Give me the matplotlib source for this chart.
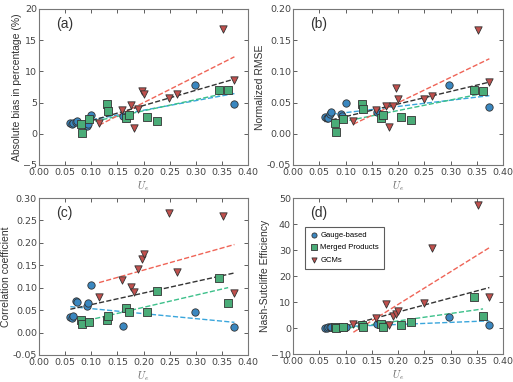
import numpy as np
import matplotlib
matplotlib.use('Agg')
import matplotlib.pyplot as plt

plt.rcParams['font.family'] = ['DejaVu Sans']
plt.rcParams['mathtext.fontset'] = 'cm'

# x positions (U_e) of each product group
x_gauge = [0.060, 0.064, 0.066, 0.071, 0.073, 0.092, 0.093, 0.100, 0.160, 0.298, 0.374]
x_merged = [0.080, 0.082, 0.095, 0.131, 0.133, 0.167, 0.172, 0.206, 0.225, 0.345, 0.362]
x_gcm = [0.115, 0.158, 0.177, 0.182, 0.190, 0.197, 0.200, 0.249, 0.265, 0.353, 0.374]

# (a) absolute bias in percentage
bias_gauge = [1.8, 1.5, 1.7, 1.9, 2.0, 1.2, 1.6, 3.0, 2.8, 7.8, 4.7]
bias_merged = [1.6, 0.2, 2.3, 4.8, 3.7, 2.5, 3.0, 2.7, 2.1, 7.0, 7.0]
bias_gcm = [1.7, 3.8, 4.6, 1.0, 4.0, 6.9, 6.4, 5.7, 6.3, 16.8, 8.6]

# (b) normalized RMSE
rmse_gauge = [0.027, 0.025, 0.026, 0.031, 0.035, 0.031, 0.028, 0.049, 0.035, 0.078, 0.043]
rmse_merged = [0.018, 0.003, 0.024, 0.048, 0.040, 0.025, 0.030, 0.027, 0.022, 0.070, 0.068]
rmse_gcm = [0.021, 0.038, 0.044, 0.011, 0.045, 0.073, 0.055, 0.055, 0.061, 0.167, 0.083]

# (c) correlation coefficient
corr_gauge = [0.035, 0.032, 0.037, 0.070, 0.068, 0.060, 0.066, 0.106, 0.015, 0.046, 0.013]
corr_merged = [0.027, 0.020, 0.024, 0.029, 0.037, 0.055, 0.045, 0.046, 0.093, 0.121, 0.067]
corr_gcm = [0.079, 0.117, 0.102, 0.091, 0.141, 0.163, 0.176, 0.267, 0.134, 0.259, 0.088]

# (d) Nash-Sutcliffe efficiency
nse_gauge = [0.1, 0.1, 0.3, 0.3, 0.2, 0.3, 0.4, 0.4, 1.6, 4.3, 1.0]
nse_merged = [0.2, 0.1, 0.5, 1.0, 0.3, 1.7, 0.5, 1.1, 2.2, 11.8, 4.6]
nse_gcm = [1.6, 3.9, 9.3, 1.0, 4.8, 5.4, 6.6, 9.7, 30.6, 47.3, 11.9]

panels = [
    ('(a)', 'Absolute bias in percentage (%)', (bias_gauge, bias_merged, bias_gcm), (-5, 20), 5),
    ('(b)', 'Normalized RMSE', (rmse_gauge, rmse_merged, rmse_gcm), (-0.05, 0.20), 0.05),
    ('(c)', 'Correlation coefficient', (corr_gauge, corr_merged, corr_gcm), (-0.05, 0.30), 0.05),
    ('(d)', 'Nash-Sutcliffe Efficiency', (nse_gauge, nse_merged, nse_gcm), (-10, 50), 10),
]

names = ['Gauge-based', 'Merged Products', 'GCMs']
markers = ['o', 's', 'v']
face = ['#3a87c0', '#4aac78', '#c0504d']
line_col = ['#3aa6dc', '#3cc08a', '#ef6457']
xs = [x_gauge, x_merged, x_gcm]

fig = plt.figure(figsize=(5.13, 3.82), dpi=100)
boxes = [(39, 9, 248, 165), (293, 9, 503, 165), (39, 198, 248, 355), (293, 198, 503, 354)]
W, H = 513.0, 382.0

for (lab, ylab, ys, ylim, step), (l, t, r, b) in zip(panels, boxes):
    ax = fig.add_axes([l / W, 1 - b / H, (r - l) / W, (b - t) / H])
    for i in range(3):
        ax.scatter(xs[i], ys[i], marker=markers[i], s=28, c=face[i],
                   edgecolors='#333333', linewidths=0.6, zorder=3, label=names[i])
    for i in range(3):
        k, c = np.polyfit(xs[i], ys[i], 1)
        xx = np.array([min(xs[i]), max(xs[i])])
        ax.plot(xx, k * xx + c, '--', color=line_col[i], lw=1.0, zorder=2)
    allx = np.concatenate(xs)
    ally = np.concatenate(ys)
    k, c = np.polyfit(allx, ally, 1)
    xx = np.array([allx.min(), allx.max()])
    ax.plot(xx, k * xx + c, '--', color='#333333', lw=1.0, zorder=2)

    ax.set_xlim(0, 0.4)
    ax.set_ylim(*ylim)
    ax.set_xticks(np.arange(0, 0.401, 0.05))
    ax.set_yticks(np.arange(ylim[0], ylim[1] + step / 2, step))
    if step < 1:
        ax.yaxis.set_major_formatter(matplotlib.ticker.FormatStrFormatter('%.2f'))
    ax.xaxis.set_major_formatter(matplotlib.ticker.FormatStrFormatter('%.2f'))
    ax.tick_params(direction='in', top=True, right=True, labelsize=6.8,
                   colors='#444444', length=3, width=0.6, pad=1.5)
    ax.tick_params(axis='x', pad=2.5)
    for sp in ax.spines.values():
        sp.set_color('#777777')
        sp.set_linewidth(0.8)
    ax.set_ylabel(ylab, fontsize=7.5, color='#333333', labelpad=1,
                  family=['Liberation Sans', 'DejaVu Sans'])
    ax.set_xlabel('$U_e$', fontsize=7.5, color='#666666', labelpad=1)
    ax.text(0.08, 0.88, lab, transform=ax.transAxes, fontsize=10, color='#333333',
            family=['Liberation Sans', 'DejaVu Sans'])
    if lab == '(d)':
        leg = ax.legend(loc='upper left', bbox_to_anchor=(0.04, 0.84),
                        prop={'family': ['Liberation Sans', 'DejaVu Sans'], 'size': 5.5},
                        scatterpoints=1, fancybox=False, edgecolor='#333333',
                        markerscale=0.7, handletextpad=0.2, handlelength=1.2,
                        borderpad=0.6, labelspacing=0.7)
        leg.get_frame().set_linewidth(0.8)

plt.savefig('out.png', dpi=100)
